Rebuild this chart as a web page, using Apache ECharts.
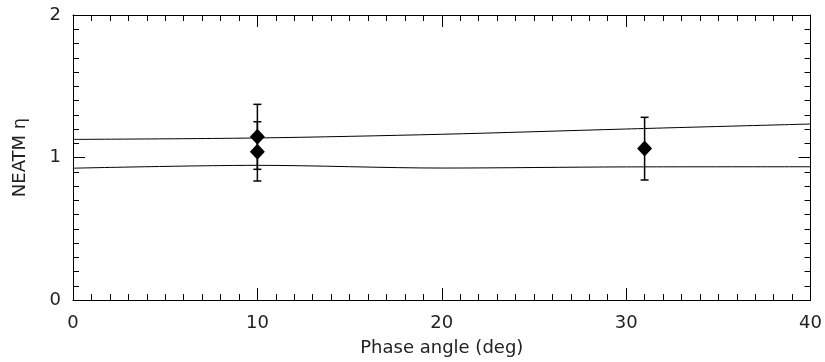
<!DOCTYPE html>
<html>
<head>
<meta charset="utf-8">
<script src="https://cdn.jsdelivr.net/npm/echarts@6/dist/echarts.min.js"></script>
<style>
  html, body { margin: 0; padding: 0; background: #fff; }
  #chart { width: 825px; height: 362px; }
</style>
</head>
<body>
<div id="chart"></div>
<script>
// measured points (phase angle, eta, error bar ends)
const phaseAngles = [10, 10, 31]
const etaValues = [1.146, 1.040, 1.064]
const etaLow = [0.917, 0.835, 0.842]
const etaHigh = [1.373, 1.251, 1.282]

// model curves
const modelX = [0, 10, 20, 30, 40]
const modelUpper = [1.127, 1.137, 1.163, 1.200, 1.235]
const modelLower = [0.925, 0.945, 0.926, 0.934, 0.935]

const xTicks = [0, 10, 20, 30, 40]
const yTicks = [0, 1, 2]

const font = 'DejaVu Sans'
const ink = '#000'
const textInk = '#222'

const chart = echarts.init(document.getElementById('chart'))

const tickCommon = {
  axisLine: { show: true, onZero: false, lineStyle: { color: ink, width: 1 } },
  axisTick: { show: true, inside: true, length: 12, lineStyle: { color: ink, width: 1 } },
  minorTick: { show: true, splitNumber: 10, length: 6, lineStyle: { color: ink, width: 1 } },
  splitLine: { show: false },
  minorSplitLine: { show: false }
}

const option = {
  animation: false,
  backgroundColor: '#fff',
  grid: { left: 73, right: 13, top: 15, bottom: 62 },
  xAxis: [
    {
      type: 'value', min: 0, max: 40, interval: 10, position: 'bottom',
      name: 'Phase angle (deg)', nameLocation: 'middle', nameGap: 39,
      nameTextStyle: { fontFamily: font, fontSize: 18, color: textInk },
      axisLabel: {
        margin: 14, fontFamily: font, fontSize: 18, color: textInk,
        formatter: v => xTicks.includes(v) ? String(v) : ''
      },
      ...tickCommon
    },
    {
      type: 'value', min: 0, max: 40, interval: 10, position: 'top',
      axisLabel: { show: false },
      ...tickCommon
    }
  ],
  yAxis: [
    {
      type: 'value', min: 0, max: 2, interval: 1, position: 'left',
      name: 'NEATM η', nameLocation: 'middle', nameGap: 44, nameRotate: 90,
      nameTextStyle: { fontFamily: font, fontSize: 18, color: textInk },
      axisLabel: {
        margin: 12, fontFamily: font, fontSize: 18, color: textInk,
        formatter: v => yTicks.includes(v) ? String(v) : ''
      },
      ...tickCommon
    },
    {
      type: 'value', min: 0, max: 2, interval: 1, position: 'right',
      axisLabel: { show: false },
      ...tickCommon
    }
  ],
  series: [
    {
      name: 'model upper', type: 'line', showSymbol: false, smooth: 0.3,
      data: modelX.map((x, i) => [x, modelUpper[i]]),
      lineStyle: { color: ink, width: 1 }
    },
    {
      name: 'model lower', type: 'line', showSymbol: false, smooth: 0.3,
      data: modelX.map((x, i) => [x, modelLower[i]]),
      lineStyle: { color: ink, width: 1 }
    },
    {
      name: 'error bars', type: 'custom',
      data: phaseAngles.map((x, i) => [x, etaLow[i], etaHigh[i]]),
      renderItem: (params, api) => {
        const lo = api.coord([api.value(0), api.value(1)])
        const hi = api.coord([api.value(0), api.value(2)])
        const cap = 4
        const style = { stroke: ink, lineWidth: 1.5 }
        return {
          type: 'group',
          children: [
            { type: 'line', shape: { x1: lo[0], y1: lo[1], x2: hi[0], y2: hi[1] }, style },
            { type: 'line', shape: { x1: hi[0] - cap, y1: hi[1], x2: hi[0] + cap, y2: hi[1] }, style },
            { type: 'line', shape: { x1: lo[0] - cap, y1: lo[1], x2: lo[0] + cap, y2: lo[1] }, style }
          ]
        }
      },
      z: 3
    },
    {
      name: 'eta', type: 'scatter', symbol: 'diamond', symbolSize: [15, 16],
      data: phaseAngles.map((x, i) => [x, etaValues[i]]),
      itemStyle: { color: ink, opacity: 1 },
      z: 4
    }
  ]
}

chart.setOption(option)
</script>
</body>
</html>
